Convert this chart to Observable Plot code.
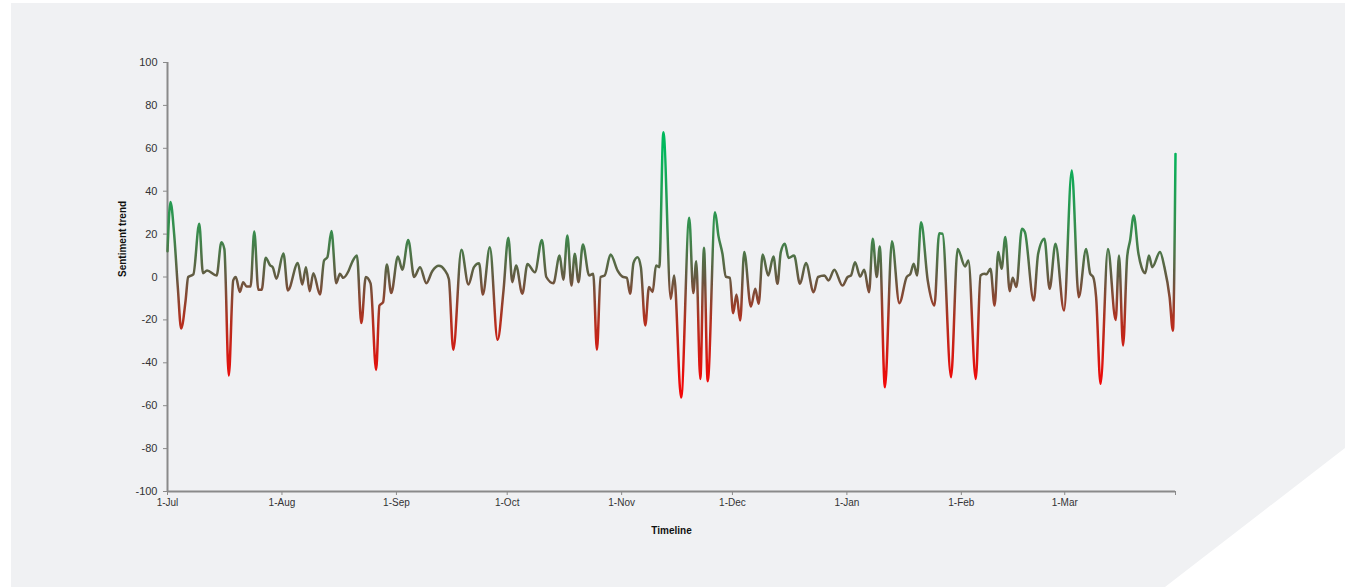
<!DOCTYPE html>
<html><head><meta charset="utf-8">
<script src="https://cdn.jsdelivr.net/npm/d3@7"></script>
<script src="https://cdn.jsdelivr.net/npm/@observablehq/plot@0.6"></script>
<style>
body{margin:0;background:#fff;}
#wrap{position:relative;width:1348px;height:587px;overflow:hidden;}
#panel{position:absolute;left:0;top:0;width:1348px;height:587px;background:#f0f1f3;
  clip-path:polygon(11px 3px,1345px 3px,1345px 448px,1165px 587px,11px 587px);}
#chart{position:absolute;left:0;top:0;}
</style></head><body>
<div id="wrap"><div id="panel"></div><div id="chart"></div></div>
<script>
// Days since 1-Jul and the sentiment value at each
const dayOffsets = [
 0, 0.8, 1.8, 2.8, 3.7, 4.9, 5.6, 7, 8.6, 9.6,
 10.7, 13.3, 14.6, 15.4, 16.6, 17.8, 18.5, 19.6, 20.5, 21.4,
 22.5, 23.5, 24.6, 25.5, 26.6, 27.8, 28.5, 29.5, 31.4, 32.6,
 35.3, 36.5, 37.5, 38.5, 39.5, 41.3, 42.4, 43.3, 44.4, 45.7,
 46.7, 47.6, 49, 50, 51.3, 52.5, 53.7, 55, 56.5, 57.4,
 58.4, 59.4, 60.6, 62.4, 63.6, 65.2, 66.8, 68.4, 70.1, 71.7,
 73.5, 75, 76.2, 77.4, 79.6, 81.5, 83, 84.4, 85.4, 87.3,
 89.4, 91, 92.3, 93.4, 94.4, 96.1, 97.5, 99.5, 101.4, 102.6,
 104.5, 106.2, 107.2, 108.3, 109.4, 110.3, 111.3, 112.5, 114.2, 115.3,
 116.3, 117.3, 118.4, 120, 121.9, 123.2, 124.4, 125.3, 126.2, 127.3,
 128.2, 129.4, 130.4, 131.4, 132.3, 133.2, 134.3, 136.3, 137.2, 139.1,
 141.3, 142.4, 143.2, 144.3, 145.3, 146.3, 148.3, 149.2, 150.3, 151.2,
 152.3, 153.2, 154.1, 155.1, 156.2, 158, 159.2, 160.1, 161.2, 162.7,
 164.1, 165.2, 166.1, 167.2, 168.2, 169.7, 171.3, 172.9, 175, 176.2,
 177.9, 179, 180.6, 182.8, 184.2, 185.1, 186.2, 187.6, 188.7, 190,
 191, 192.1, 192.9, 194.3, 196.2, 198.2, 200.2, 201.2, 202.1, 203,
 204.1, 205.9, 207.7, 209, 209.9, 212.2, 214, 216, 216.9, 218.9,
 220.2, 221.2, 221.8, 222.9, 224, 225, 225.9, 226.9, 228.1, 228.9,
 229.9, 231.4, 232.2, 234.6, 235.8, 237.5, 238.9, 240.5, 242.8, 244.9,
 246.8, 248.8, 249.9, 250.7, 251.5, 252.7, 254.7, 256.8, 257.7, 258.8,
 259.9, 260.7, 261.7, 262.9, 263.8, 264.8, 265.8, 266.7, 268.8, 270,
 271.4, 272.3, 273
];
const sentiment = [
 12, 35, 20, -5, -24, -11, 0, 1.2, 24.8, 1.8,
 3, 0.7, 16.2, 13, -45.9, -1.6, 0, -7, -2.4, -4.4,
 -4.4, 21.2, -6, -6, 9, 5.4, 4.6, -0.8, 11, -6.3,
 6.5, -3.5, 4.6, -6.6, 1.8, -8.2, 7.7, 9.2, 21.4, -2.9,
 1.5, -0.4, 2.7, 6.9, 10, -21.5, 0, -3, -43.3, -13.3,
 -11.7, 5.8, -7.5, 9.6, 3.4, 17.3, 0, 4.6, -2.9, 2.7,
 5.2, 3.4, -0.9, -33.9, 12.7, -3.5, 4.6, 6.4, -8.2, 13.9,
 -29.3, -6.3, 18.3, -2.4, 5.4, -7.8, 6.1, 2.2, 17.3, 0,
 -2.9, 10, -1.3, 19.3, -4, 10.8, -2.4, 15.2, 0.7, 1.5,
 -33.9, 0, 0.7, 10.5, 3, 0.2, -0.4, -7.8, 6.5, 9.2,
 4.6, -22.6, -4.7, -7, 5.4, 4.6, 67.5, -10.2, 0.7, -56.2,
 27.6, -7.5, 7.4, -47.5, 13.6, -48.6, 30.2, 19.3, 10.8, 0.2,
 -0.4, -16.9, -8.2, -20.3, 11.6, -13.8, -5.5, -12.5, 10.5, 0.7,
 9.6, -3.2, 11.6, 15.5, 8.9, 10, -3.2, 6.5, -7.1, 0,
 0.7, -1.6, 3.4, -4, 0, 0.7, 6.9, 0.2, 3.4, -7.1,
 17.8, 0, 14.2, -51.4, 16.7, -12.2, 0, 1.5, 6.2, 0.7,
 25.5, -1.6, -13.3, 20.4, 20.2, -46.7, 13.1, 4.9, 7.7, -47.5,
 0.7, 1.5, 1.3, 3.8, -13.3, 11.6, 3.8, 18.6, -6.6, -0.4,
 -4.7, 22.5, 21, -11, 10.8, 17.8, -5.5, 15.5, -15.6, 49.7,
 -9.4, 13.1, 1.5, 0, -9.4, -49.8, 13.1, -20, 10, -31.9,
 9.2, 17, 28.7, 11.6, 4.6, 1.8, 10, 4.6, 11.6, 4.6,
 -9.4, -25, 57.4
];
const yTicks = [-100, -80, -60, -40, -20, 0, 20, 40, 60, 80, 100];
const yLabel = "Sentiment trend";
const xLabel = "Timeline";
// gradient stops: value -> colour
const gradValues = [60, 20, 0, -20, -50];
const gradColors = ["#00b85c", "#3a8a4c", "#645a42", "#b2301f", "#f20808"];

const DAY = 864e5;
const start = new Date(Date.UTC(2022, 6, 1));
const end = new Date(Date.UTC(2023, 2, 31));
const data = dayOffsets.map((d, i) => ({date: new Date(start.getTime() + d * DAY), value: sentiment[i]}));
const monthTicks = d3.utcMonth.range(start, new Date(Date.UTC(2023, 3, 1)));
const xTicks = [...monthTicks, end];
const fmt = d3.utcFormat("%-d-%b");

const gradientDefs = (index, scales) => {
  const y = scales.y;
  const y1 = y(gradValues[0]), y2 = y(gradValues[gradValues.length - 1]);
  const g = d3.create("svg:g");
  const lg = g.append("defs").append("linearGradient")
    .attr("id", "trendGrad").attr("gradientUnits", "userSpaceOnUse")
    .attr("x1", 0).attr("x2", 0).attr("y1", y1).attr("y2", y2);
  gradValues.forEach((v, i) => {
    lg.append("stop").attr("offset", (y(v) - y1) / (y2 - y1)).attr("stop-color", gradColors[i]);
  });
  return g.node();
};

const chart = Plot.plot({
  width: 1348, height: 587,
  marginLeft: 167, marginRight: 173, marginTop: 62, marginBottom: 96,
  style: {background: "transparent", fontFamily: "'Liberation Sans', Arial, sans-serif", fontSize: "11px", color: "#333"},
  x: {type: "utc", domain: [start, end]},
  y: {domain: [-100, 100]},
  marks: [
    gradientDefs,
    Plot.axisY({ticks: yTicks, tickFormat: d => String(d), tickSize: 4, tickPadding: 6, stroke: "#8a8a8a", fill: "#333", label: null, fontSize: 11}),
    Plot.axisX({ticks: xTicks, tickFormat: d => (+d === +end ? "" : fmt(d)), tickSize: 4, tickPadding: 3, stroke: "#8a8a8a", fill: "#333", label: null, fontSize: 10}),
    Plot.ruleX([start], {stroke: "#8a8a8a", strokeWidth: 2}),
    Plot.ruleY([-100], {stroke: "#8a8a8a", strokeWidth: 2}),
    Plot.line(data, {x: "date", y: "value", curve: "monotone-x", stroke: "url(#trendGrad)", strokeWidth: 2.5}),
    Plot.text([yLabel], {text: d => d, frameAnchor: "left", rotate: -90, dx: -45, fontWeight: "bold", fontSize: 10, fill: "#111"}),
    Plot.text([xLabel], {text: d => d, frameAnchor: "bottom", dy: 42, fontWeight: "bold", fontSize: 10, fill: "#111"})
  ]
});
document.getElementById("chart").appendChild(chart);
</script></body></html>
